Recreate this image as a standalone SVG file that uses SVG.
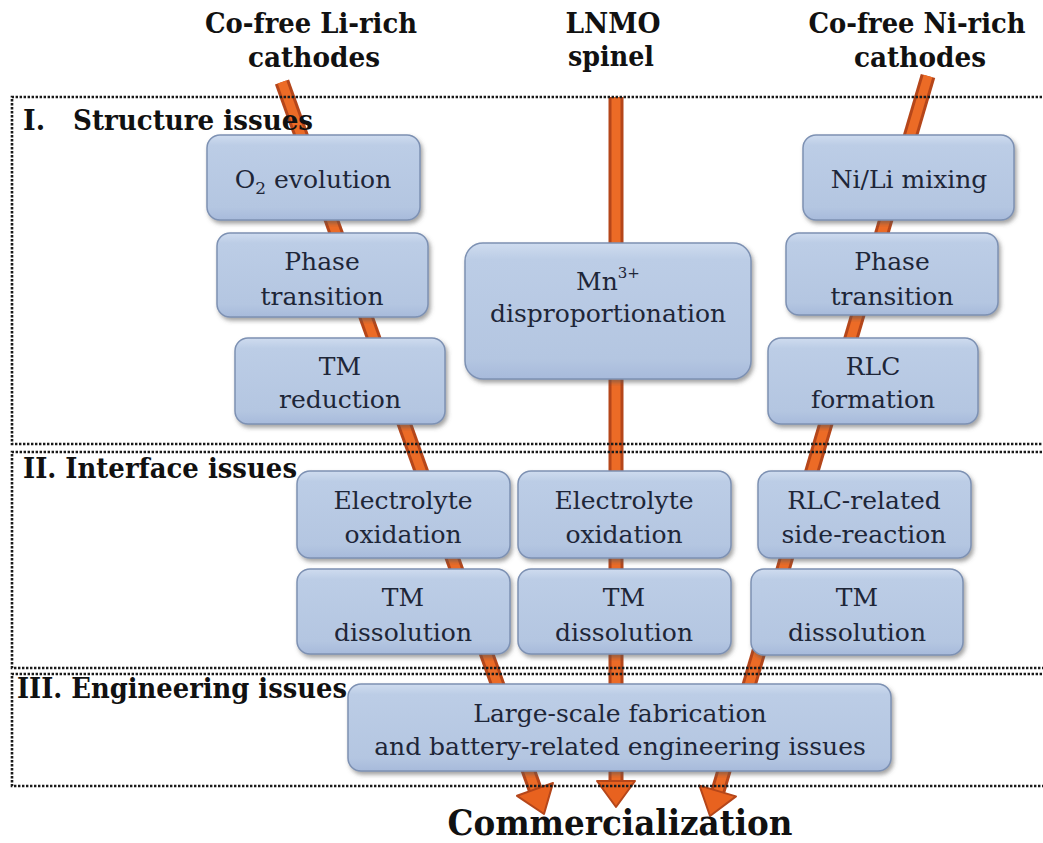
<svg xmlns="http://www.w3.org/2000/svg" width="1043" height="843" viewBox="0 0 1043 843">
<defs>
<linearGradient id="boxg" x1="0" y1="0" x2="0" y2="1">
<stop offset="0" stop-color="#cfdcef"/>
<stop offset="0.12" stop-color="#bccde6"/>
<stop offset="0.85" stop-color="#b4c6e1"/>
<stop offset="1" stop-color="#a7badb"/>
</linearGradient>
<filter id="shadow" x="-10%" y="-10%" width="125%" height="135%">
<feDropShadow dx="2" dy="3" stdDeviation="2" flood-color="#555" flood-opacity="0.55"/>
</filter>
<style>
.box{fill:url(#boxg);stroke:#7d91b3;stroke-width:1.5;filter:url(#shadow)}
.bt{font-family:"DejaVu Serif","Liberation Serif",serif;font-size:25px;fill:#1e2638;text-anchor:middle}
.hd{font-family:"DejaVu Serif","Liberation Serif",serif;font-weight:bold;font-size:27px;fill:#111}
.sec{fill:none;stroke:#1a1a1a;stroke-width:2.6;stroke-dasharray:2.4 1.6}
.shaft{fill:none;stroke:#b5461a;stroke-width:15}
.shaftc{fill:none;stroke:#ec6b26;stroke-width:9}
.head{fill:#e8621f;stroke:#b5461a;stroke-width:2;stroke-linejoin:round}
</style>
</defs>
<rect width="1043" height="843" fill="#ffffff"/>

<g id="connectors">
<line class="shaft" x1="282" y1="82" x2="535" y2="789"/>
<line class="shaftc" x1="282" y1="82" x2="535" y2="789"/>
<polygon class="head" points="553,782.9 517,795.8 544,814"/>
<line class="shaft" x1="616" y1="97" x2="616" y2="783"/>
<line class="shaftc" x1="616" y1="97" x2="616" y2="783"/>
<polygon class="head" points="597,781 635,781 616,807"/>
<line class="shaft" x1="928" y1="76" x2="718" y2="791"/>
<line class="shaftc" x1="928" y1="76" x2="718" y2="791"/>
<polygon class="head" points="736,796.4 699.5,785.6 710,816"/>
</g>

<g id="sections">
<path class="sec" d="M1050,97 H12 V444 H1050"/>
<path class="sec" d="M1050,452 H12 V668 H1050"/>
<path class="sec" d="M1050,674 H12 V786 H1050"/>
</g>

<g id="headers">
<text class="hd" x="311" y="33" text-anchor="middle" textLength="212" lengthAdjust="spacingAndGlyphs">Co-free Li-rich</text>
<text class="hd" x="314" y="67" text-anchor="middle" textLength="132" lengthAdjust="spacingAndGlyphs">cathodes</text>
<text class="hd" x="613" y="33" text-anchor="middle" textLength="95" lengthAdjust="spacingAndGlyphs">LNMO</text>
<text class="hd" x="611" y="66" text-anchor="middle" textLength="86" lengthAdjust="spacingAndGlyphs">spinel</text>
<text class="hd" x="917" y="33" text-anchor="middle" textLength="217" lengthAdjust="spacingAndGlyphs">Co-free Ni-rich</text>
<text class="hd" x="920" y="67" text-anchor="middle" textLength="132" lengthAdjust="spacingAndGlyphs">cathodes</text>
<text class="hd" x="23" y="130">I.</text>
<text class="hd" x="73" y="130" textLength="240" lengthAdjust="spacingAndGlyphs">Structure issues</text>
<text class="hd" x="23" y="478" textLength="274" lengthAdjust="spacingAndGlyphs">II. Interface issues</text>
<text class="hd" x="17" y="698" textLength="330" lengthAdjust="spacingAndGlyphs">III. Engineering issues</text>
<text class="hd" x="620" y="835" text-anchor="middle" style="font-size:36px" textLength="345" lengthAdjust="spacingAndGlyphs">Commercialization</text>
</g>

<g id="n-o2">
<rect class="box" x="207" y="135" width="213" height="85" rx="13"/>
<text class="bt" x="313" y="188">O<tspan font-size="17" dy="6">2</tspan><tspan dy="-6"> evolution</tspan></text>
</g>
<g id="n-phase-l">
<rect class="box" x="217" y="233" width="211" height="84" rx="13"/>
<text class="bt" x="322" y="270">Phase</text>
<text class="bt" x="322" y="305">transition</text>
</g>
<g id="n-tmred">
<rect class="box" x="235" y="338" width="210" height="86" rx="13"/>
<text class="bt" x="340" y="375">TM</text>
<text class="bt" x="340" y="408">reduction</text>
</g>
<g id="n-eo-l">
<rect class="box" x="297" y="471" width="213" height="87" rx="13"/>
<text class="bt" x="403" y="509">Electrolyte</text>
<text class="bt" x="403" y="543">oxidation</text>
</g>
<g id="n-tmd-l">
<rect class="box" x="297" y="569" width="213" height="85" rx="13"/>
<text class="bt" x="403" y="606">TM</text>
<text class="bt" x="403" y="641">dissolution</text>
</g>
<g id="n-mn">
<rect class="box" x="465" y="243" width="286" height="136" rx="18"/>
<text class="bt" x="608" y="290">Mn<tspan font-size="15" dy="-12">3+</tspan></text>
<text class="bt" x="608" y="322">disproportionation</text>
</g>
<g id="n-eo-m">
<rect class="box" x="518" y="471" width="213" height="87" rx="13"/>
<text class="bt" x="624" y="509">Electrolyte</text>
<text class="bt" x="624" y="543">oxidation</text>
</g>
<g id="n-tmd-m">
<rect class="box" x="518" y="569" width="213" height="85" rx="13"/>
<text class="bt" x="624" y="606">TM</text>
<text class="bt" x="624" y="641">dissolution</text>
</g>
<g id="n-nili">
<rect class="box" x="803" y="135" width="211" height="85" rx="13"/>
<text class="bt" x="909" y="188">Ni/Li mixing</text>
</g>
<g id="n-phase-r">
<rect class="box" x="786" y="233" width="212" height="82" rx="13"/>
<text class="bt" x="892" y="270">Phase</text>
<text class="bt" x="892" y="305">transition</text>
</g>
<g id="n-rlc">
<rect class="box" x="768" y="338" width="210" height="86" rx="13"/>
<text class="bt" x="873" y="375">RLC</text>
<text class="bt" x="873" y="408">formation</text>
</g>
<g id="n-rlcside">
<rect class="box" x="758" y="471" width="213" height="87" rx="13"/>
<text class="bt" x="864" y="509">RLC-related</text>
<text class="bt" x="864" y="543">side-reaction</text>
</g>
<g id="n-tmd-r">
<rect class="box" x="751" y="569" width="212" height="86" rx="13"/>
<text class="bt" x="857" y="606">TM</text>
<text class="bt" x="857" y="641">dissolution</text>
</g>
<g id="n-eng">
<rect class="box" x="348" y="684" width="543" height="87" rx="13"/>
<text class="bt" x="620" y="722">Large-scale fabrication</text>
<text class="bt" x="620" y="755">and battery-related engineering issues</text>
</g>
</svg>
